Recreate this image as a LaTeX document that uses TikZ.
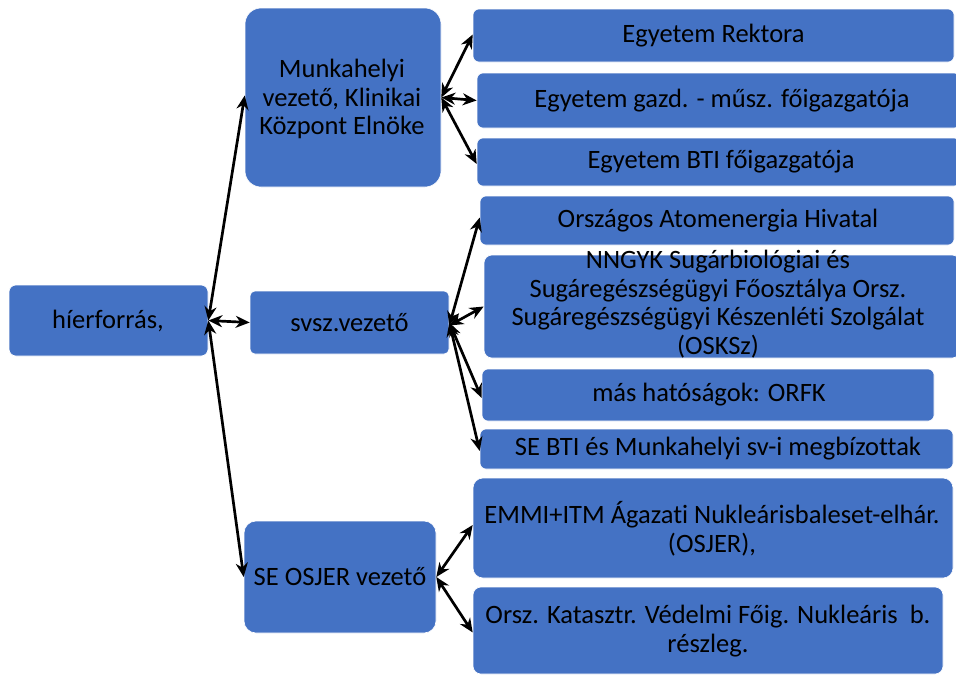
\documentclass[tikz,border=0pt]{standalone}
\usepackage{fontspec}
\setmainfont{Carlito}[Ligatures={NoCommon}]
\usetikzlibrary{arrows.meta}
\definecolor{boxblue}{HTML}{4472C4}
\begin{document}
\begin{tikzpicture}[x=1pt,y=-1pt,
  box/.style={fill=boxblue, draw=white, line width=0.6pt, rounded corners=#1, inner sep=0pt},
  box/.default=6pt,
  txt/.style={font=\fontsize{26.5}{28.5}\selectfont, align=center, text=black, inner sep=0pt},
  conn/.style={{Stealth[length=14pt,width=12pt,inset=4.5pt]}-{Stealth[length=14pt,width=12pt,inset=4.5pt]}, line width=2.7pt, black}
]
\useasboundingbox (0,0) rectangle (956,675);

% boxes
\node[box=7pt, minimum width=199pt, minimum height=71pt] (hier) at (108.5,320.5) {};
\node[box=16pt, minimum width=196pt, minimum height=179pt] (mun) at (343,97.5) {};
\node[box=5pt, minimum width=199pt, minimum height=63pt] (svsz) at (349.5,322.5) {};
\node[box=12pt, minimum width=192pt, minimum height=112pt] (osjer) at (340,577) {};

\node[box, minimum width=481pt, minimum height=53pt] (rekt) at (713.5,35.5) {};
\node[box, minimum width=483pt, minimum height=55pt] (gazd) at (718.5,100.5) {};
\node[box, minimum width=483pt, minimum height=48pt] (bti) at (718.5,162) {};
\node[box, minimum width=474pt, minimum height=49pt] (orsz) at (717,220.5) {};
\node[box=8pt, minimum width=476pt, minimum height=103pt] (nngyk) at (722,306.5) {};
\node[box, minimum width=452pt, minimum height=52pt] (mas) at (708,395) {};
\node[box, minimum width=473pt, minimum height=40pt] (sebti) at (716.5,449) {};
\node[box=10pt, minimum width=480pt, minimum height=100pt] (emmi) at (713,528) {};
\node[box=8pt, minimum width=470pt, minimum height=87pt] (kat) at (708,630.5) {};

% texts
\node[txt] (thier) at (108,320.5) {híerforrás,};
\node[txt] (tmun) at (342,99) {Munkahelyi\\vezető, Klinikai\\Központ Elnöke};
\node[txt] (tsvsz) at (349.5,322.5) {svsz.vezető};
\node[txt] (tosjer) at (340,577) {SE OSJER vezető};
\node[txt] (trekt) at (713.5,35.5) {Egyetem Rektora};
\node[txt] (tgazd) at (722,100.5) {Egyetem gazd. - műsz. főigazgatója};
\node[txt] (tbti) at (721,162) {Egyetem BTI főigazgatója};
\node[txt] (torsz) at (718,220.5) {Országos Atomenergia Hivatal};
\node[txt] (tnngyk) at (718,304) {NNGYK Sugárbiológiai és\\Sugáregészségügyi Főosztálya Orsz.\\Sugáregészségügyi Készenléti Szolgálat\\(OSKSz)};
\node[txt] (tmas) at (709,395) {más hatóságok: ORFK};
\node[txt] (tsebti) at (718,449) {SE BTI és Munkahelyi sv-i megbízottak};
\node[txt] (temmi) at (712,529) {EMMI+ITM Ágazati Nukleárisbaleset-elhár.\\(OSJER),};
\node[txt] (tkat) at (708,631) {Orsz. Katasztr. Védelmi Főig. Nukleáris~~b.\\részleg.};

% connectors
\draw[conn] (hier.east) -- ([yshift=2pt]mun.west);
\draw[conn] (hier.east) -- (svsz.west);
\draw[conn] (hier.east) -- (osjer.west);

\draw[conn] (mun.east) -- ([yshift=1pt]rekt.west);
\draw[conn] (mun.east) -- (gazd.west);
\draw[conn] (mun.east) -- ([yshift=-2pt]bti.west);

\draw[conn] ([yshift=-3pt]svsz.east) -- ([yshift=3pt]orsz.west);
\draw[conn] ([yshift=-3pt]svsz.east) -- (nngyk.west);
\draw[conn] (svsz.east) -- ([yshift=-3pt]mas.west);
\draw[conn] (svsz.east) -- ([yshift=-2pt]sebti.west);

\draw[conn] (osjer.east) -- ([yshift=3pt]emmi.west);
\draw[conn] (osjer.east) -- ([yshift=-2pt]kat.west);
\end{tikzpicture}
\end{document}
